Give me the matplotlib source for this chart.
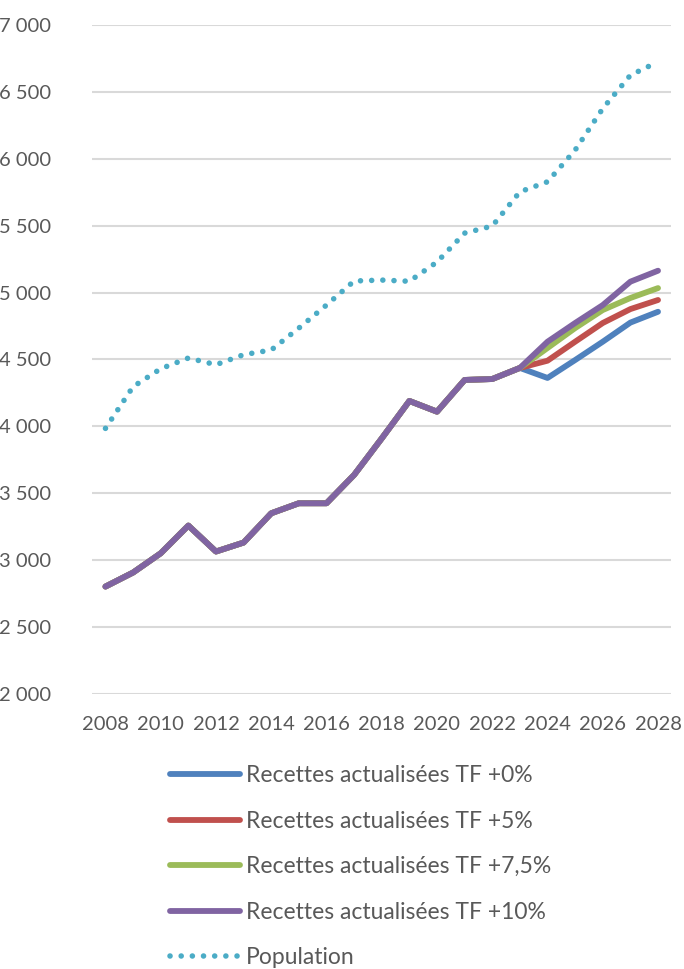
import numpy as np
import matplotlib.pyplot as plt
from matplotlib.ticker import FuncFormatter

plt.rcParams['font.family'] = ['Lato', 'DejaVu Sans']

years = list(range(2008, 2029))

# historique commun 2008-2023
hist = [2802, 2907, 3051, 3258, 3064, 3131, 3350, 3425, 3425, 3637,
        3910, 4190, 4110, 4347, 4354, 4437]

tf_0 = hist + [4362, 4496, 4633, 4776, 4857]
tf_5 = hist + [4491, 4633, 4773, 4877, 4945]
tf_75 = hist + [4586, 4735, 4870, 4960, 5034]
tf_10 = hist + [4633, 4773, 4907, 5082, 5164]

population = [3985, 4297, 4431, 4511, 4461, 4536, 4571, 4735, 4907, 5087,
              5094, 5085, 5229, 5445, 5498, 5754, 5829, 6066, 6377, 6626, 6726]

labels = ['Recettes actualisées TF +0%', 'Recettes actualisées TF +5%',
          'Recettes actualisées TF +7,5%', 'Recettes actualisées TF +10%',
          'Population']

colors = ['#4F81BD', '#C0504D', '#9BBB59', '#8064A2', '#4BACC6']
txt_color = '#595959'

fig = plt.figure(figsize=(6.84, 9.69), dpi=100)
ax = fig.add_axes([0.134, 0.284, 0.847, 0.690])

series = [tf_0, tf_5, tf_75, tf_10]
for s, c, lab in zip(series, colors[:4], labels[:4]):
    ax.plot(years, s, color=c, lw=4.2, solid_capstyle='round', solid_joinstyle='round', label=lab)

ax.plot(years, population, color=colors[4], lw=4.0, linestyle=(0, (0.01, 2.0)),
        dash_capstyle='round', label=labels[4])

ax.set_xlim(2007.5, 2028.47)
ax.set_ylim(2000, 7000)
ax.set_yticks(np.arange(2000, 7001, 500))
ax.set_xticks(range(2008, 2029, 2))
ax.yaxis.set_major_formatter(FuncFormatter(lambda v, p: f'{int(v):,}'.replace(',', ' ')))

ax.grid(axis='y', color='#D9D9D9', lw=1.5)
ax.set_axisbelow(True)
for sp in ax.spines.values():
    sp.set_visible(False)
ax.tick_params(axis='both', length=0, labelsize=14.5, labelcolor=txt_color)
ax.tick_params(axis='y', pad=29)
ax.tick_params(axis='x', pad=16)

handles, labs = ax.get_legend_handles_labels()
leg = fig.legend(handles, labs, loc='upper left', bbox_to_anchor=(0.2485, 0.2105),
                 frameon=False, fontsize=16.5, handlelength=3.05, handletextpad=0.27,
                 labelspacing=1.07, borderaxespad=0, borderpad=0)
for t in leg.get_texts():
    t.set_color(txt_color)

plt.savefig('out.png', dpi=100)
